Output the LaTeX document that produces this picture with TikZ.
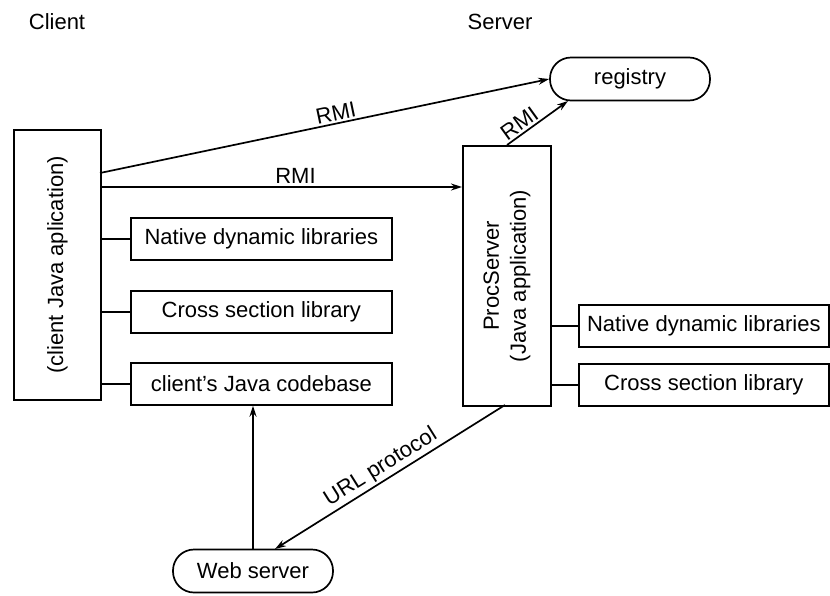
\documentclass[tikz,border=0pt]{standalone}
\usepackage{fontspec}
\setmainfont{Liberation Sans}
\usetikzlibrary{arrows.meta}
\begin{document}
\begin{tikzpicture}[x=1pt,y=-1pt,
  every node/.style={font=\fontsize{22}{27}\selectfont, inner sep=0pt},
  box/.style={draw, line width=1.7pt, anchor=north west},
  stadium/.style={draw, line width=1.7pt, rounded corners=21pt, minimum width=160pt, minimum height=43pt},
  conn/.style={line width=1.7pt},
  arr/.style={line width=1.7pt, -{Stealth[length=11pt,width=7pt]}},
  lbl/.style={sloped, above, inner sep=2pt}]
\useasboundingbox (0,0) rectangle (830,595);
\node (clientlbl) at (57,22) {Client};
\node (serverlbl) at (500,22) {Server};
% client
\node[box, minimum width=87pt, minimum height=270pt] (client) at (13,129) {};
\node[rotate=90] (clienttxt) at (client.center) {(client Java aplication)};
\node[box, minimum width=261pt, minimum height=42pt] (cnative) at (130,217) {Native dynamic libraries};
\node[box, minimum width=261pt, minimum height=42pt] (ccross) at (130,290) {Cross section library};
\node[box, minimum width=261pt, minimum height=42pt] (ccode) at (130,362) {client’s Java codebase};
\draw[conn] (client.east |- cnative.west) -- (cnative.west);
\draw[conn] (client.east |- ccross.west) -- (ccross.west);
\draw[conn] (client.east |- ccode.west) -- (ccode.west);
% server
\node[box, minimum width=88pt, minimum height=260pt] (proc) at (462,145) {};
\node[rotate=90, align=center] (proctxt) at (proc.center) {ProcServer\\(Java application)};
\node[box, minimum width=250pt, minimum height=42pt] (snative) at (578,304) {Native dynamic libraries};
\node[box, minimum width=250pt, minimum height=42pt] (scross) at (578,363) {Cross section library};
\draw[conn] (proc.east |- snative.west) -- (snative.west);
\draw[conn] (proc.east |- scross.west) -- (scross.west);
% registry and web server
\node[stadium] (registry) at (630,79) {registry};
\node[stadium] (web) at (253,571) {Web server};
% connectors
\coordinate (c1) at (100,173);
\coordinate (c2) at (100,187);
\draw[arr] (c1) -- node[lbl, pos=0.53] {RMI} (registry.west);
\draw[arr] (c2) -- node[above, inner sep=3pt, pos=0.54] {RMI} (proc.west |- c2);
\coordinate (p1) at (507,145);
\coordinate (r1) at (568,101);
\draw[arr] (p1) -- node[lbl, pos=0.3] {RMI} (r1);
\coordinate (p2) at (505,405);
\coordinate (w1) at (275,549);
\draw[arr] (p2) -- node[lbl, pos=0.51] {URL protocol} (w1);
\draw[arr] (web.north) -- (ccode.south -| web.north);
\end{tikzpicture}
\end{document}
